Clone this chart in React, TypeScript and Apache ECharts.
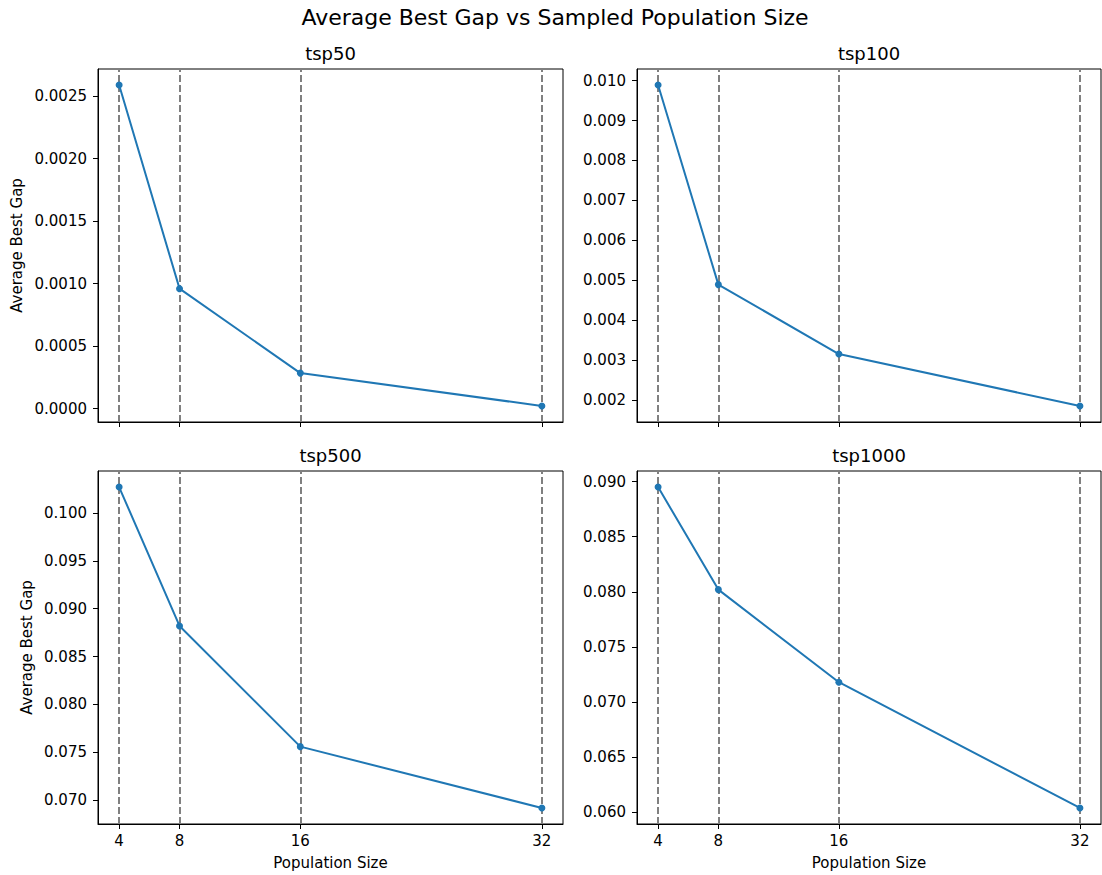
import React, { useEffect, useRef } from "react";
import * as echarts from "echarts";

const FONT = "DejaVu Sans";
const suptitle = "Average Best Gap vs Sampled Population Size";
const xLabel = "Population Size";
const yLabel = "Average Best Gap";

const popSizes = [4, 8, 16, 32];
const panelTitles = ["tsp50", "tsp100", "tsp500", "tsp1000"];
const tsp50 = [0.00259, 0.00096, 0.000284, 0.000021];
const tsp100 = [0.00989, 0.00489, 0.00315, 0.00185];
const tsp500 = [0.1027, 0.0882, 0.0756, 0.0692];
const tsp1000 = [0.0895, 0.0802, 0.0718, 0.0604];

const yTicks50 = [0, 0.0005, 0.001, 0.0015, 0.002, 0.0025];
const yTicks100 = [0.002, 0.003, 0.004, 0.005, 0.006, 0.007, 0.008, 0.009, 0.01];
const yTicks500 = [0.07, 0.075, 0.08, 0.085, 0.09, 0.095, 0.1];
const yTicks1000 = [0.06, 0.065, 0.07, 0.075, 0.08, 0.085, 0.09];

const seriesData = [tsp50, tsp100, tsp500, tsp1000];
const yTicksAll = [yTicks50, yTicks100, yTicks500, yTicks1000];
const decimals = [4, 3, 3, 3];

function padRange(arr: number[]) {
  const mn = Math.min(...arr);
  const mx = Math.max(...arr);
  const r = mx - mn;
  return [mn - 0.05 * r, mx + 0.05 * r];
}

const grids = [
  { left: 98, top: 69, width: 465, height: 353 },
  { left: 637, top: 69, width: 464, height: 353 },
  { left: 98, top: 471, width: 465, height: 353 },
  { left: 637, top: 471, width: 464, height: 353 },
];
const yNameGaps = [74, 0, 64, 0];

function buildOption() {
  const [xMin, xMax] = padRange(popSizes);
  const textColor = "#000";
  const grid: any[] = [];
  const xAxis: any[] = [];
  const yAxis: any[] = [];
  const series: any[] = [];
  const graphic: any[] = [
    {
      type: "text",
      x: 555,
      y: 17,
      style: {
        text: suptitle,
        fontSize: 22,
        fontFamily: FONT,
        fill: textColor,
        align: "center",
        verticalAlign: "middle",
      },
    },
  ];
  for (let i = 0; i < 4; i++) {
    const g = grids[i];
    const bottomRow = i >= 2;
    const leftCol = i % 2 === 0;
    grid.push({
      ...g,
      show: true,
      borderColor: "#000",
      borderWidth: 1,
      backgroundColor: "transparent",
    });
    xAxis.push({
      type: "value",
      gridIndex: i,
      min: xMin,
      max: xMax,
      axisLine: { show: true, onZero: false, lineStyle: { color: "#000", width: 1 } },
      axisTick: { show: true, customValues: popSizes, length: 5, lineStyle: { color: "#000", width: 1 } },
      axisLabel: {
        show: bottomRow,
        customValues: popSizes,
        fontSize: 15,
        fontFamily: FONT,
        color: textColor,
        margin: 9,
      },
      splitLine: { show: false },
      name: bottomRow ? xLabel : "",
      nameLocation: "middle",
      nameGap: 31,
      nameTextStyle: { fontSize: 15, fontFamily: FONT, color: textColor },
    });
    const [yMin, yMax] = padRange(seriesData[i]);
    const dec = decimals[i];
    yAxis.push({
      type: "value",
      gridIndex: i,
      min: yMin,
      max: yMax,
      axisLine: { show: true, onZero: false, lineStyle: { color: "#000", width: 1 } },
      axisTick: { show: true, customValues: yTicksAll[i], length: 5, lineStyle: { color: "#000", width: 1 } },
      axisLabel: {
        customValues: yTicksAll[i],
        formatter: (v: number) => Number(v).toFixed(dec),
        fontSize: 15,
        fontFamily: FONT,
        color: textColor,
        margin: 11,
      },
      splitLine: { show: false },
      name: leftCol ? yLabel : "",
      nameLocation: "middle",
      nameGap: yNameGaps[i],
      nameTextStyle: { fontSize: 15, fontFamily: FONT, color: textColor },
    });
    series.push({
      type: "line",
      xAxisIndex: i,
      yAxisIndex: i,
      data: popSizes.map((x, j) => [x, seriesData[i][j]]),
      symbol: "circle",
      symbolSize: 7,
      showAllSymbol: true,
      lineStyle: { color: "#1f77b4", width: 2 },
      itemStyle: { color: "#1f77b4" },
      z: 3,
      markLine: {
        silent: true,
        symbol: ["none", "none"],
        label: { show: false },
        lineStyle: { color: "#808080", type: [7, 3], width: 2 },
        data: popSizes.map((x) => ({ xAxis: x })),
        z: 2,
      },
    });
    graphic.push({
      type: "text",
      x: g.left + g.width / 2,
      y: g.top - 16,
      style: {
        text: panelTitles[i],
        fontSize: 18,
        fontFamily: FONT,
        fill: textColor,
        align: "center",
        verticalAlign: "middle",
      },
    });
  }
  return {
    animation: false,
    backgroundColor: "#fff",
    textStyle: { fontFamily: FONT },
    grid,
    xAxis,
    yAxis,
    series,
    graphic,
  };
}

export default function App() {
  const ref = useRef<HTMLDivElement>(null);
  useEffect(() => {
    if (!ref.current) return;
    const chart = echarts.init(ref.current, null, { renderer: "svg" });
    chart.setOption(buildOption() as any);
    return () => chart.dispose();
  }, []);
  return (
    <div
      ref={ref}
      style={{ position: "absolute", left: 0, top: 0, width: 1102, height: 875, background: "#fff" }}
    />
  );
}
